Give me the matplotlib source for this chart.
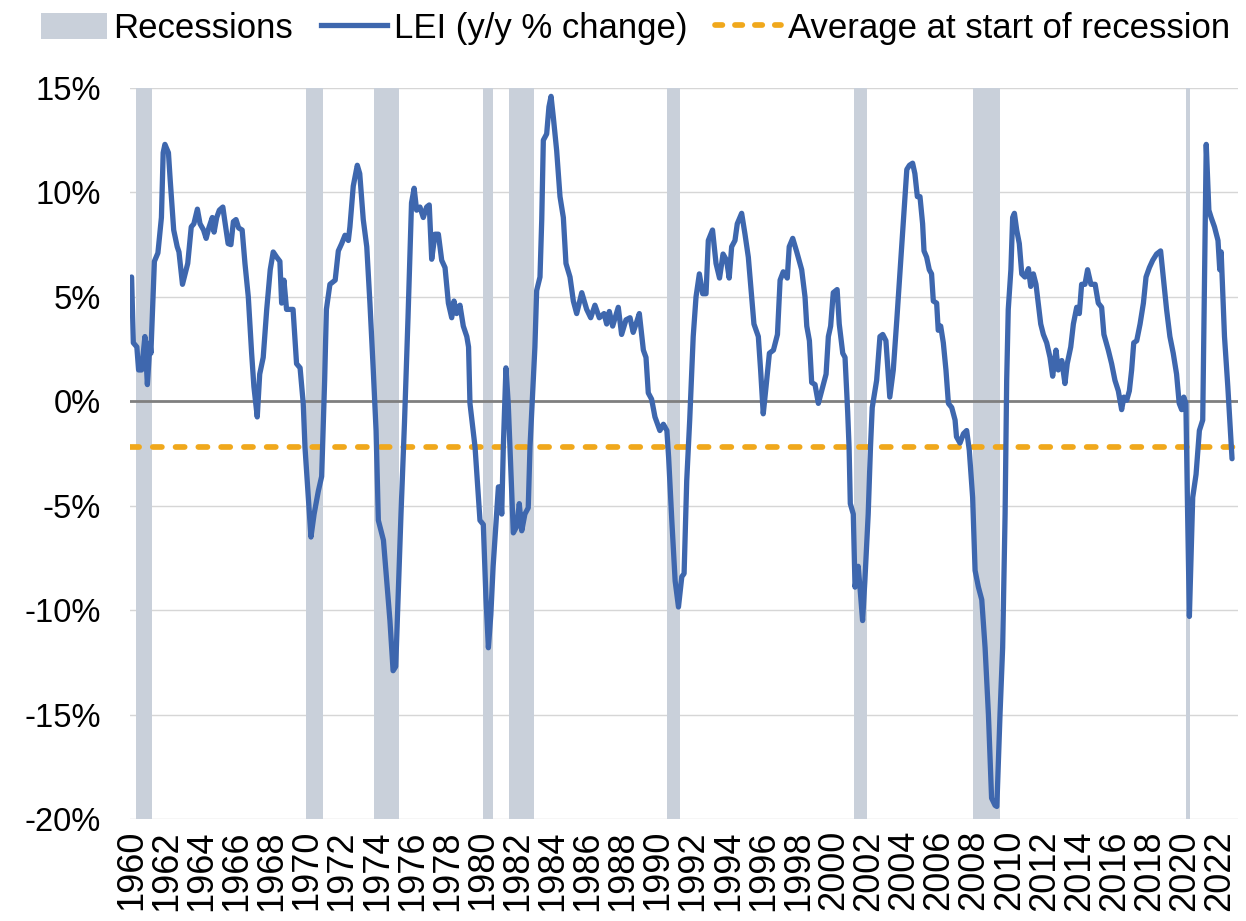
import matplotlib
matplotlib.use("Agg")
import matplotlib.pyplot as plt
from matplotlib.patches import Patch
from matplotlib.lines import Line2D

plt.rcParams['font.family'] = ['Liberation Sans', 'DejaVu Sans']

# ---- data ----
lei_years = [
    1960.00, 1960.10, 1960.30, 1960.40, 1960.57, 1960.76, 1960.90, 1961.05, 1961.10, 1961.30,
    1961.50, 1961.70, 1961.80, 1961.90, 1962.10, 1962.20, 1962.40, 1962.60, 1962.70, 1962.90,
    1963.05, 1963.20, 1963.40, 1963.55, 1963.75, 1963.90, 1964.10, 1964.25, 1964.40, 1964.60,
    1964.70, 1964.85, 1965.00, 1965.20, 1965.30, 1965.50, 1965.66, 1965.80, 1965.95, 1966.10,
    1966.30, 1966.46, 1966.65, 1966.84, 1966.97, 1967.16, 1967.30, 1967.50, 1967.70, 1967.90,
    1968.07, 1968.27, 1968.45, 1968.55, 1968.68, 1968.83, 1969.00, 1969.20, 1969.40, 1969.60,
    1969.78, 1969.88, 1970.07, 1970.22, 1970.40, 1970.64, 1970.83, 1971.00, 1971.10, 1971.30,
    1971.60, 1971.78, 1971.97, 1972.16, 1972.35, 1972.44, 1972.63, 1972.86, 1973.00, 1973.20,
    1973.40, 1973.58, 1973.77, 1973.93, 1974.06, 1974.35, 1974.54, 1974.72, 1974.90, 1975.05,
    1975.35, 1975.55, 1975.75, 1975.95, 1976.10, 1976.24, 1976.43, 1976.62, 1976.81, 1976.96,
    1977.10, 1977.29, 1977.48, 1977.67, 1977.86, 1978.05, 1978.24, 1978.37, 1978.52, 1978.71,
    1978.90, 1979.10, 1979.20, 1979.28, 1979.57, 1979.85, 1980.04, 1980.19, 1980.33, 1980.47,
    1980.60, 1980.80, 1980.90, 1980.99, 1981.09, 1981.18, 1981.33, 1981.46, 1981.56, 1981.75,
    1981.94, 1982.09, 1982.23, 1982.41, 1982.60, 1982.70, 1982.89, 1982.98, 1983.08, 1983.27,
    1983.37, 1983.46, 1983.65, 1983.78, 1983.90, 1984.03, 1984.22, 1984.41, 1984.60, 1984.75,
    1984.98, 1985.17, 1985.36, 1985.65, 1985.93, 1986.16, 1986.40, 1986.65, 1986.92, 1987.07,
    1987.22, 1987.41, 1987.73, 1987.92, 1988.17, 1988.40, 1988.58, 1988.74, 1988.93, 1989.06,
    1989.16, 1989.31, 1989.44, 1989.63, 1989.82, 1990.10, 1990.30, 1990.50, 1990.60, 1990.78,
    1990.97, 1991.16, 1991.35, 1991.48, 1991.63, 1991.80, 1992.00, 1992.16, 1992.35, 1992.54,
    1992.73, 1992.86, 1993.10, 1993.30, 1993.50, 1993.70, 1993.90, 1994.05, 1994.19, 1994.38,
    1994.51, 1994.76, 1994.95, 1995.14, 1995.33, 1995.46, 1995.71, 1995.84, 1995.99, 1996.15,
    1996.34, 1996.57, 1996.80, 1996.95, 1997.13, 1997.36, 1997.47, 1997.67, 1997.90, 1998.18,
    1998.37, 1998.47, 1998.62, 1998.75, 1998.94, 1999.13, 1999.32, 1999.57, 1999.70, 1999.83,
    1999.98, 2000.20, 2000.32, 2000.52, 2000.65, 2000.80, 2000.88, 2000.95, 2001.12, 2001.22,
    2001.40, 2001.50, 2001.65, 2001.78, 2001.97, 2002.10, 2002.20, 2002.45, 2002.64, 2002.80,
    2002.98, 2003.20, 2003.40, 2003.60, 2003.79, 2003.98, 2004.17, 2004.32, 2004.50, 2004.63,
    2004.77, 2004.92, 2005.07, 2005.15, 2005.30, 2005.45, 2005.58, 2005.68, 2005.87, 2005.96,
    2006.10, 2006.25, 2006.40, 2006.54, 2006.73, 2006.92, 2007.00, 2007.20, 2007.40, 2007.58,
    2007.73, 2007.92, 2008.06, 2008.25, 2008.44, 2008.63, 2008.82, 2009.00, 2009.20, 2009.30,
    2009.48, 2009.63, 2009.77, 2009.86, 2009.95, 2010.10, 2010.20, 2010.30, 2010.43, 2010.58,
    2010.72, 2010.90, 2011.10, 2011.23, 2011.38, 2011.53, 2011.66, 2011.80, 2011.95, 2012.14,
    2012.33, 2012.48, 2012.67, 2012.80, 2013.00, 2013.18, 2013.31, 2013.51, 2013.66, 2013.85,
    2014.00, 2014.13, 2014.32, 2014.47, 2014.66, 2014.90, 2015.08, 2015.27, 2015.40, 2015.65,
    2015.84, 2016.03, 2016.22, 2016.41, 2016.54, 2016.70, 2016.85, 2016.98, 2017.10, 2017.27,
    2017.46, 2017.65, 2017.80, 2017.99, 2018.18, 2018.40, 2018.63, 2018.78, 2018.97, 2019.16,
    2019.35, 2019.54, 2019.69, 2019.83, 2019.95, 2020.07, 2020.17, 2020.27, 2020.46, 2020.65,
    2020.84, 2021.03, 2021.14, 2021.23, 2021.38, 2021.51, 2021.70, 2021.90, 2022.00, 2022.08,
    2022.27, 2022.46, 2022.70,
]
lei_values = [
    5.95, 2.8, 2.6, 1.5, 1.5, 3.1, 0.8, 2.8, 2.3, 6.7,
    7.1, 8.8, 11.9, 12.3, 11.9, 10.6, 8.2, 7.4, 7.15, 5.6,
    6.1, 6.6, 8.35, 8.5, 9.2, 8.5, 8.2, 7.8, 8.3, 8.8,
    8.1, 8.8, 9.15, 9.3, 8.7, 7.55, 7.5, 8.6, 8.7, 8.3,
    8.2, 6.6, 5.0, 2.3, 0.7, -0.75, 1.3, 2.1, 4.4, 6.3,
    7.15, 6.9, 6.7, 4.7, 5.8, 4.4, 4.4, 4.4, 1.8, 1.6,
    -0.1, -2.2, -4.6, -6.5, -5.4, -4.3, -3.6, 1.0, 4.4, 5.6,
    5.8, 7.2, 7.55, 7.95, 7.7, 8.35, 10.3, 11.3, 10.9, 8.7,
    7.4, 4.7, 1.5, -1.4, -5.7, -6.65, -8.6, -10.5, -12.9, -12.7,
    -5.4, -1.0, 4.0, 9.5, 10.2, 9.15, 9.3, 8.8, 9.3, 9.4,
    6.8, 8.0, 8.0, 6.75, 6.4, 4.7, 4.0, 4.8, 4.2, 4.6,
    3.6, 3.1, 2.6, -0.1, -2.2, -5.7, -5.9, -9.4, -11.8, -10.2,
    -7.9, -5.4, -4.1, -4.1, -5.4, -2.2, 1.6, -0.1, -2.2, -6.3,
    -6.0, -4.9, -6.2, -5.4, -5.1, -2.2, 1.0, 2.6, 5.3, 5.95,
    8.7, 12.5, 12.8, 14.1, 14.6, 13.6, 12.0, 9.8, 8.8, 6.6,
    5.95, 4.8, 4.2, 5.2, 4.4, 4.0, 4.6, 4.0, 4.2, 3.7,
    4.3, 3.6, 4.5, 3.2, 3.9, 4.0, 3.3, 3.7, 4.2, 3.2,
    2.45, 2.1, 0.4, 0.1, -0.75, -1.4, -1.1, -1.4, -2.7, -5.7,
    -8.6, -9.85, -8.4, -8.25, -3.8, -0.9, 3.1, 5.0, 6.1, 5.15,
    5.15, 7.7, 8.2, 6.6, 5.9, 7.05, 6.75, 5.9, 7.4, 7.7,
    8.5, 9.0, 8.0, 6.9, 5.0, 3.7, 3.1, 1.5, -0.6, 0.7,
    2.3, 2.45, 3.2, 5.8, 6.2, 5.9, 7.4, 7.8, 7.15, 6.3,
    5.0, 3.6, 2.9, 0.9, 0.8, -0.1, 0.5, 1.3, 3.1, 3.6,
    5.2, 5.35, 3.7, 2.3, 2.1, -0.5, -2.2, -4.9, -5.4, -8.9,
    -7.9, -8.9, -10.5, -8.6, -5.4, -2.2, -0.3, 1.0, 3.1, 3.2,
    2.9, 0.2, 1.5, 3.9, 6.3, 8.7, 11.1, 11.3, 11.4, 10.9,
    9.8, 9.8, 8.5, 7.2, 6.9, 6.3, 6.1, 4.8, 4.7, 3.4,
    3.6, 2.8, 1.5, -0.1, -0.3, -0.9, -1.7, -2.0, -1.55, -1.4,
    -2.35, -4.6, -8.1, -8.9, -9.5, -11.8, -15.0, -19.0, -19.35, -19.4,
    -15.0, -11.8, -5.4, 1.0, 4.4, 6.3, 8.8, 9.0, 8.2, 7.55,
    6.1, 5.95, 6.35, 5.5, 6.1, 5.6, 4.7, 3.7, 3.2, 2.8,
    2.1, 1.2, 2.45, 1.5, 1.95, 0.85, 1.8, 2.6, 3.7, 4.5,
    4.2, 5.6, 5.6, 6.3, 5.6, 5.6, 4.7, 4.5, 3.2, 2.45,
    1.8, 1.0, 0.5, -0.4, 0.2, 0.05, 0.5, 1.5, 2.8, 2.9,
    3.7, 4.7, 5.95, 6.4, 6.75, 7.05, 7.2, 5.95, 4.4, 3.1,
    2.3, 1.3, -0.1, -0.4, 0.2, -0.1, -5.4, -10.3, -4.6, -3.5,
    -1.4, -0.9, 6.3, 12.3, 9.15, 8.8, 8.35, 7.7, 6.3, 7.15,
    3.1, 0.7, -2.75,
]

recession_starts = [1960.25, 1969.92, 1973.83, 1980.00, 1981.50, 1990.50, 2001.17, 2007.92, 2020.08]
recession_ends   = [1961.17, 1970.92, 1975.25, 1980.58, 1982.92, 1991.25, 2001.92, 2009.50, 2020.33]

avg_at_start = -2.2

year_ticks = list(range(1960, 2023, 2))
y_ticks = [-20, -15, -10, -5, 0, 5, 10, 15]

# ---- styling ----
C_REC = '#C9D0DA'
C_LINE = '#3E67AE'
C_AVG = '#F0A81C'

fig = plt.figure(figsize=(12.46, 9.21), dpi=100)
ax = fig.add_axes([130 / 1246, 1 - 819 / 921, (1238 - 130) / 1246, (819 - 88) / 921])

for s, e in zip(recession_starts, recession_ends):
    ax.axvspan(s, e, color=C_REC, lw=0, zorder=1)

for yv in y_ticks:
    if yv != 0:
        ax.axhline(yv, color='#D6D6D6', lw=1.0, zorder=0.5)
ax.axhline(0, color='#7F7F7F', lw=2.0, zorder=2)

ax.plot(lei_years, lei_values, color=C_LINE, lw=3.8, zorder=4,
        solid_joinstyle='round', solid_capstyle='round')
ax.axhline(avg_at_start, color=C_AVG, lw=4.1, ls=(0, (1.6, 2.4)),
           dash_capstyle='round', zorder=3)

ax.set_xlim(1959.91, 2023.04)
ax.set_ylim(-20, 15)
ax.set_yticks(y_ticks)
ax.set_yticklabels([f"{v}%" for v in y_ticks], fontsize=23.5)
ax.set_xticks(year_ticks)
ax.set_xticklabels([str(y) for y in year_ticks], rotation=90, fontsize=26)
ax.tick_params(length=0)
ax.tick_params(axis='x', pad=8)
ax.tick_params(axis='y', pad=21)
for sp in ax.spines.values():
    sp.set_visible(False)

handles = [
    Patch(facecolor=C_REC, edgecolor='none'),
    Line2D([0], [0], color=C_LINE, lw=3.8),
    Line2D([0], [0], color=C_AVG, lw=4.1, ls=(0, (1.3, 2.2)), dash_capstyle='round'),
]
labels = ['Recessions', 'LEI (y/y % change)', 'Average at start of recession']
fig.legend(handles, labels, loc='upper center', bbox_to_anchor=(0.51, 1.021), ncol=3,
           frameon=False, fontsize=25, handlelength=1.9, handleheight=0.75,
           handletextpad=0.2, columnspacing=0.8)

fig.savefig('out.png', dpi=100, facecolor='white')
